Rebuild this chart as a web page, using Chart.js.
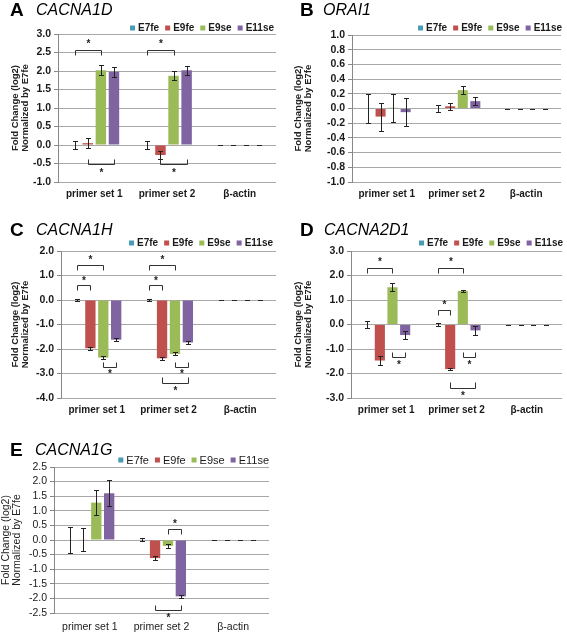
<!DOCTYPE html>
<html>
<head>
<meta charset="utf-8">
<script src="https://cdn.jsdelivr.net/npm/chart.js@4.4.0/dist/chart.umd.min.js"></script>
<style>
  body { margin: 0; background: #fff; width: 567px; height: 635px; position: relative; overflow: hidden;
         font-family: "Liberation Sans", Arial, sans-serif; }
  .panel { position: absolute; }
  .panel canvas { position: absolute; left: 0; top: 0; }
  .letter { position: absolute; font-weight: bold; font-size: 19px; line-height: 20px; color: #000; }
  .gene { position: absolute; font-style: italic; font-size: 16px; line-height: 20px; color: #000; white-space: nowrap; }
</style>
</head>
<body>
<div class="panel" id="pA" style="left:0;top:0;width:283px;height:210px">
  <canvas id="cA" width="283" height="210"></canvas>
  <div class="letter" style="left:10px;top:0px">A</div>
  <div class="gene" style="left:36px;top:0px">CACNA1D</div>
</div>
<div class="panel" id="pB" style="left:283px;top:0;width:284px;height:210px">
  <canvas id="cB" width="284" height="210"></canvas>
  <div class="letter" style="left:17px;top:0px">B</div>
  <div class="gene" style="left:40px;top:0px">ORAI1</div>
</div>
<div class="panel" id="pC" style="left:0;top:210px;width:283px;height:215px">
  <canvas id="cC" width="283" height="215"></canvas>
  <div class="letter" style="left:10px;top:10px">C</div>
  <div class="gene" style="left:36px;top:10px">CACNA1H</div>
</div>
<div class="panel" id="pD" style="left:283px;top:210px;width:284px;height:215px">
  <canvas id="cD" width="284" height="215"></canvas>
  <div class="letter" style="left:17px;top:10px">D</div>
  <div class="gene" style="left:41px;top:10px">CACNA2D1</div>
</div>
<div class="panel" id="pE" style="left:0;top:425px;width:283px;height:210px">
  <canvas id="cE" width="283" height="210"></canvas>
  <div class="letter" style="left:10px;top:15px">E</div>
  <div class="gene" style="left:35px;top:15px">CACNA1G</div>
</div>

<script>
const categories = ['primer set 1', 'primer set 2', 'β-actin'];
const seriesNames = ['E7fe', 'E9fe', 'E9se', 'E11se'];
const seriesColors = ['#4A9BB5', '#C0504D', '#9BBB59', '#8064A2'];

// one row per series (E7fe, E9fe, E9se, E11se), one value per category
const cacna1dMeans = [[0, 0, 0], [0.05, -0.27, 0], [2.02, 1.87, 0], [1.98, 2.02, 0]];
const cacna1dErrors = [[0.12, 0.10, 0], [0.13, 0.12, 0], [0.13, 0.12, 0], [0.13, 0.12, 0]];
// brackets: [category, from series, to series, line y, leg end y, star y]
const cacna1dBrackets = [[0, 0, 2, 2.57, 2.44, 2.77], [0, 1, 3, -0.5, -0.37, -0.71],
                         [1, 0, 2, 2.57, 2.44, 2.77], [1, 1, 3, -0.5, -0.37, -0.71]];

const orai1Means = [[0, 0, 0], [-0.11, 0.03, 0], [0.01, 0.25, 0], [-0.05, 0.10, 0]];
const orai1Errors = [[0.20, 0.05, 0], [0.19, 0.05, 0], [0.19, 0.05, 0], [0.19, 0.05, 0]];
const orai1Brackets = [];

const cacna1hMeans = [[0, 0, 0], [-1.97, -2.38, 0], [-2.35, -2.20, 0], [-1.62, -1.73, 0]];
const cacna1hErrors = [[0.05, 0.03, 0], [0.06, 0.07, 0], [0.05, 0.06, 0], [0.05, 0.05, 0]];
const cacna1hBrackets = [[0, 0, 2, 1.41, 1.21, 1.71], [0, 0, 1, 0.6, 0.39, 0.84], [0, 2, 3, -2.73, -2.53, -2.96],
                         [1, 0, 2, 1.41, 1.21, 1.71], [1, 0, 1, 0.6, 0.39, 0.84], [1, 2, 3, -2.73, -2.53, -2.96],
                         [1, 1, 3, -3.37, -3.13, -3.65]];

const cacna2d1Means = [[0, 0, 0], [-1.47, -1.82, 0], [1.52, 1.37, 0], [-0.43, -0.24, 0]];
const cacna2d1Errors = [[0.15, 0.05, 0], [0.17, 0.05, 0], [0.17, 0.05, 0], [0.17, 0.17, 0]];
const cacna2d1Brackets = [[0, 0, 2, 2.32, 2.12, 2.62], [0, 2, 3, -1.33, -1.13, -1.57],
                          [1, 0, 2, 2.32, 2.12, 2.62], [1, 0, 1, 0.6, 0.4, 0.85], [1, 2, 3, -1.33, -1.13, -1.57],
                          [1, 1, 3, -2.58, -2.35, -2.86]];

const cacna1gMeans = [[0, 0.02, 0], [0.02, -0.62, 0], [1.28, -0.20, 0], [1.60, -1.93, 0]];
const cacna1gErrors = [[0.44, 0.05, 0], [0.38, 0.07, 0], [0.42, 0.07, 0], [0.45, 0.06, 0]];
const cacna1gBrackets = [[1, 2, 3, 0.36, 0.19, 0.6], [1, 1, 3, -2.39, -2.22, -2.61]];

const textColor = '#1a1a1a';

// error bars, significance brackets and the legend, drawn from the chart's own scales
const extras = {
  id: 'extras',
  afterDatasetsDraw(chart, args, opts) {
    const ctx = chart.ctx;
    const ys = chart.scales.y;
    const px = (i, c) => chart.getDatasetMeta(i).data[c].x;
    const py = v => Math.round(ys.getPixelForValue(v)) + 0.5;
    ctx.save();
    ctx.strokeStyle = '#222';
    ctx.lineWidth = 1;
    opts.errors.forEach((row, i) => {
      row.forEach((e, c) => {
        const v = chart.data.datasets[i].data[c];
        const x = Math.round(px(i, c)) + 0.5;
        const t = py(v + e), b = py(v - e);
        ctx.beginPath();
        ctx.moveTo(x, t); ctx.lineTo(x, b);
        ctx.moveTo(x - 2.5, t); ctx.lineTo(x + 2.5, t);
        ctx.moveTo(x - 2.5, b); ctx.lineTo(x + 2.5, b);
        ctx.stroke();
      });
    });
    ctx.strokeStyle = '#333';
    ctx.fillStyle = '#222';
    ctx.font = 'bold 10px "Liberation Sans", Arial';
    ctx.textAlign = 'center';
    ctx.textBaseline = 'middle';
    opts.brackets.forEach(([c, a, b, yl, yg, ystar]) => {
      const x1 = Math.round(px(a, c)) + 0.5, x2 = Math.round(px(b, c)) + 0.5;
      ctx.beginPath();
      ctx.moveTo(x1, py(yg)); ctx.lineTo(x1, py(yl)); ctx.lineTo(x2, py(yl)); ctx.lineTo(x2, py(yg));
      ctx.stroke();
      ctx.fillText('*', (x1 + x2) / 2, ys.getPixelForValue(ystar) + 2);
    });
    // legend, right aligned
    ctx.font = opts.legendFont;
    ctx.textAlign = 'left';
    let x = opts.legendRight;
    const items = chart.data.datasets.map(d => ({ label: d.label, color: d.backgroundColor, w: ctx.measureText(d.label).width }));
    for (let k = items.length - 1; k >= 0; k--) {
      const it = items[k];
      x -= it.w;
      ctx.fillStyle = textColor;
      ctx.fillText(it.label, x, opts.legendY + 0.5);
      x -= 3 + 5;
      ctx.fillStyle = it.color;
      ctx.fillRect(x, opts.legendY - 2.5, 5, 5);
      x -= 6;
    }
    ctx.restore();
  }
};

function makePanel(id, means, errors, brackets, g) {
  const canvas = document.getElementById(id);
  const W = canvas.width, H = canvas.height;
  const family = '"Liberation Sans", Arial, sans-serif';
  const font = { family, size: g.fontSize, weight: g.weight };
  return new Chart(canvas, {
    type: 'bar',
    data: {
      labels: categories,
      datasets: seriesNames.map((name, i) => ({
        label: name,
        data: means[i],
        backgroundColor: seriesColors[i],
        borderWidth: 0,
        categoryPercentage: 0.72,
        barPercentage: 0.8
      }))
    },
    options: {
      responsive: false,
      animation: false,
      layout: { padding: { left: g.padLeft, right: W - g.right, top: g.top, bottom: 0 } },
      plugins: {
        legend: { display: false },
        tooltip: { enabled: false },
        extras: { errors, brackets, legendRight: g.legendRight, legendY: g.legendY,
                  legendFont: g.weight + ' ' + g.legendSize + 'px "Liberation Sans", Arial' }
      },
      scales: {
        x: {
          grid: { display: false, drawTicks: false },
          border: { display: false },
          ticks: { font, color: textColor, padding: g.xPad },
          afterFit: s => { s.height = H - g.bottom; }
        },
        y: {
          min: g.min, max: g.max,
          ticks: { stepSize: g.step, autoSkip: false, color: textColor, padding: 3,
                   font: { family, size: g.tickSize, weight: g.weight },
                   callback: v => (Math.abs(v) < 1e-9 ? 0 : v).toFixed(1) },
          grid: { color: '#a8a8a8', tickLength: 4, tickColor: '#888' },
          border: { color: '#888' },
          title: { display: true, text: ['Fold Change (log2)', 'Normalized by E7fe'],
                   font: { family, size: g.titleSize, weight: g.weight, lineHeight: 1.1 },
                   color: '#222', padding: { top: g.titlePad, bottom: 2 } },
          afterFit: s => { s.width = g.left - g.padLeft; }
        }
      }
    },
    plugins: [extras]
  });
}

const boldStyle = { fontSize: 10, tickSize: 10.5, legendSize: 10, titleSize: 9.5, weight: 'bold', xPad: 6, padLeft: 8, titlePad: 2 };

makePanel('cA', cacna1dMeans, cacna1dErrors, cacna1dBrackets,
  Object.assign({ left: 58, right: 276, top: 34, bottom: 182, min: -1, max: 3, step: 0.5,
    legendRight: 274, legendY: 28 }, boldStyle));
makePanel('cB', orai1Means, orai1Errors, orai1Brackets,
  Object.assign({ left: 69, right: 278, top: 35, bottom: 182, min: -1, max: 1, step: 0.2,
    legendRight: 279, legendY: 28 }, boldStyle));
makePanel('cC', cacna1hMeans, cacna1hErrors, cacna1hBrackets,
  Object.assign({ left: 61, right: 276, top: 41, bottom: 188, min: -4, max: 2, step: 1,
    legendRight: 273, legendY: 33 }, boldStyle));
makePanel('cD', cacna2d1Means, cacna2d1Errors, cacna2d1Brackets,
  Object.assign({ left: 68, right: 279, top: 41, bottom: 188, min: -3, max: 3, step: 1,
    legendRight: 280, legendY: 33 }, boldStyle));
makePanel('cE', cacna1gMeans, cacna1gErrors, cacna1gBrackets,
  { left: 54, right: 269, top: 42, bottom: 188, min: -2.5, max: 2.5, step: 0.5,
    legendRight: 269, legendY: 35, fontSize: 10.5, tickSize: 10.5, legendSize: 11, titleSize: 10.5,
    weight: 'normal', xPad: 8, padLeft: 0, titlePad: 0 });
</script>
</body>
</html>
